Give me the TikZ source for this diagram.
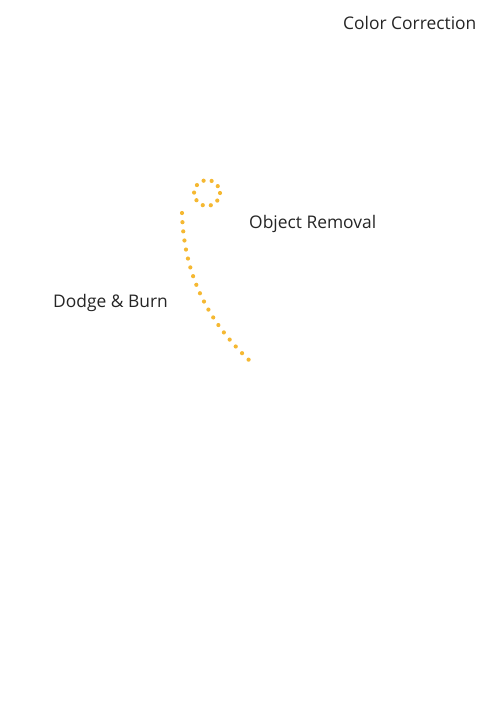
\documentclass[tikz,border=0pt]{standalone}
\usepackage{fontspec}
\setmainfont{Open Sans}
\definecolor{trail}{RGB}{245,184,50}
\definecolor{labelgray}{RGB}{37,37,37}
\tikzset{
  tag/.style={anchor=base west,inner sep=0pt,text=labelgray,font=\fontsize{17.4}{20}\selectfont},
  dots/.style={trail,line width=4.2pt,line cap=round,dash pattern=on 0pt off #1}
}
\begin{document}
\begin{tikzpicture}[x=1pt,y=-1pt]
 \useasboundingbox (0,0) rectangle (500,728);
 % labels
 \node[tag] (colcorr) at (343,29) {Color Correction};
 \node[tag] (objrem) at (249,228.5) {Object Removal};
 \node[tag] (dodge) at (53,307) {Dodge \& Burn};
 % dotted trail
 \draw[dots=8.2pt] (207,193) circle (13);
 \draw[dots=9.2pt] (182,213) .. controls (184,281) and (213,326) .. (250,361);
\end{tikzpicture}
\end{document}
